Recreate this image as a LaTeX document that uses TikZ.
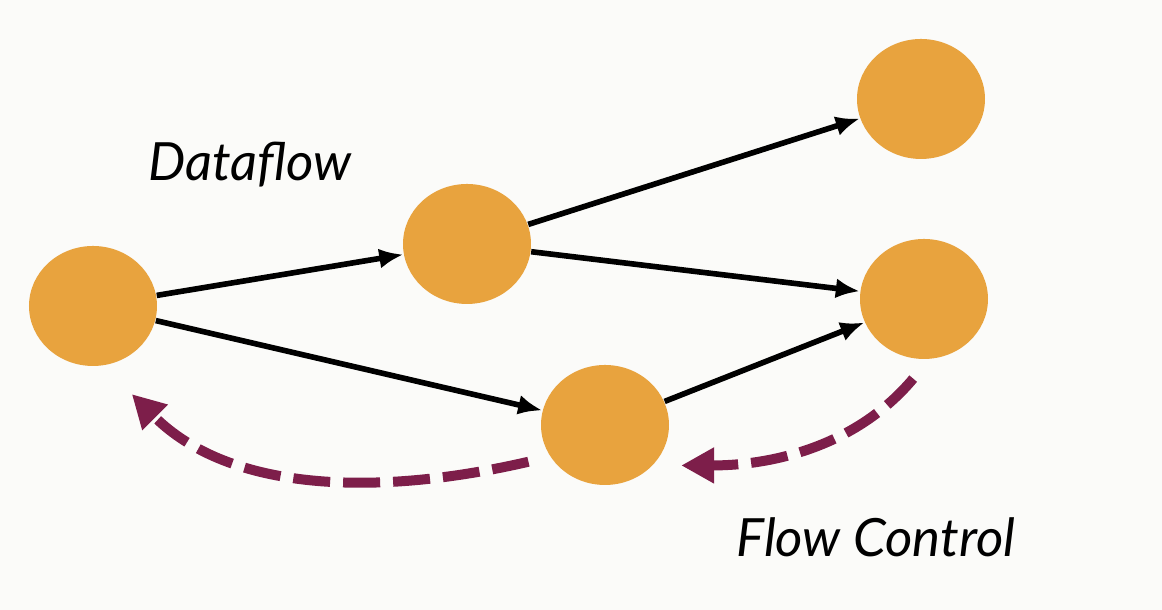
\documentclass[tikz,border=0pt]{standalone}
\usepackage{fontspec}
\setmainfont{Lato}
\usepackage{xcolor}
\usepackage{tikz}
\usetikzlibrary{arrows.meta,shapes.geometric}

\definecolor{dotorange}{HTML}{E8A33E}
\definecolor{ctrlred}{HTML}{7D1E4A}
\definecolor{paper}{HTML}{FBFBF9}

\begin{document}
\begin{tikzpicture}[
    dot/.style={ellipse, fill=dotorange, inner sep=0pt, minimum width=1.28cm, minimum height=1.2cm},
    flow/.style={-{Latex[length=0.24cm, width=0.2cm]}, line width=1.6pt},
    ctrl/.style={-{Triangle[length=0.33cm, width=0.34cm]}, line width=0.1cm, ctrlred,
                 dash pattern=on 0.37cm off 0.13cm},
    lbl/.style={font=\fontsize{15}{17}\selectfont\itshape}
  ]
    \fill[paper] (0,0) rectangle (11.62,6.10);
    \useasboundingbox (0,0) rectangle (11.62,6.10);

    \node[dot] (src) at (0.93,3.04) {};
    \node[dot] (mid) at (4.67,3.66) {};
    \node[dot] (top) at (9.21,5.11) {};
    \node[dot] (rgt) at (9.24,3.11) {};
    \node[dot] (low) at (6.05,1.85) {};

    \node[lbl] (dataflow) at (2.50,4.45) {Dataflow};
    \node[lbl] (flowctrl) at (8.76,0.73) {Flow Control};

    \draw[flow] (src) -- (mid);
    \draw[flow] (src) -- (low);
    \draw[flow] (mid) -- (top);
    \draw[flow] (mid) -- (rgt);
    \draw[flow] (low) -- (rgt);

    \draw[ctrl, shorten <=0.25cm, shorten >=0.28cm] (rgt.-85) to[out=-130, in=0] (low.-40);
    \draw[ctrl, shorten <=0.22cm, shorten >=0.4cm] (low.210) to[out=-167, in=-45] (src.-80);
  \end{tikzpicture}
\end{document}
